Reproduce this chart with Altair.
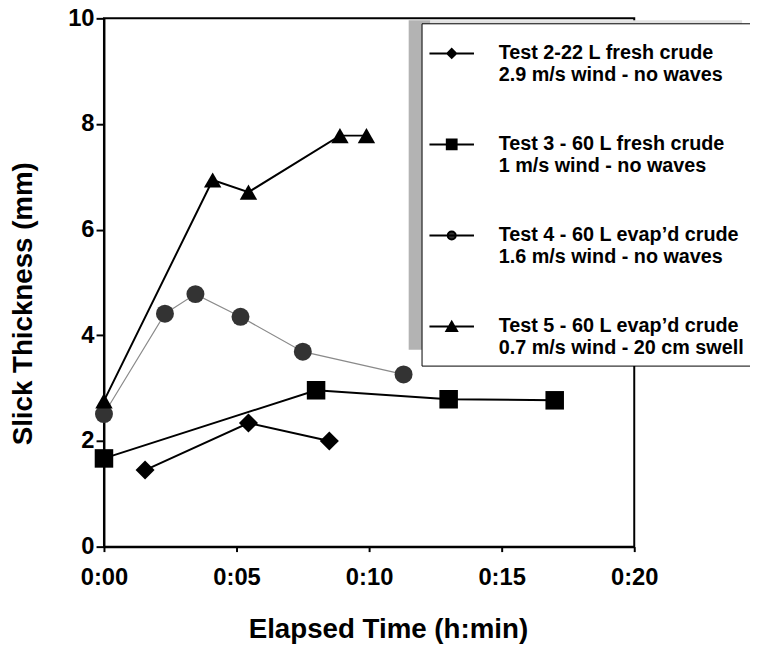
import altair as alt
import pandas as pd

series_labels = [
    "Test 2-22 L fresh crude|2.9 m/s wind - no waves",
    "Test 3 - 60 L fresh crude|1 m/s wind - no waves",
    "Test 4 - 60 L evap\u2019d crude|1.6 m/s wind - no waves",
    "Test 5 - 60 L evap\u2019d crude|0.7 m/s wind - 20 cm swell",
]

# elapsed time in minutes, slick thickness in mm
t2_time = [1.55, 5.45, 8.5]
t2_thick = [1.45, 2.34, 2.0]
t3_time = [0.0, 8.0, 13.0, 17.0]
t3_thick = [1.67, 2.96, 2.79, 2.77]
t4_time = [0.0, 2.3, 3.45, 5.15, 7.5, 11.3]
t4_thick = [2.51, 4.41, 4.78, 4.35, 3.69, 3.26]
t5_time = [0.0, 4.1, 5.45, 8.9, 9.9]
t5_thick = [2.76, 6.94, 6.71, 7.78, 7.78]

x_ticks = [0, 5, 10, 15, 20]
y_ticks = [0, 2, 4, 6, 8, 10]

rows = []
for s, ts, vs in zip(series_labels,
                     [t2_time, t3_time, t4_time, t5_time],
                     [t2_thick, t3_thick, t4_thick, t5_thick]):
    for i, (t, v) in enumerate(zip(ts, vs)):
        rows.append({"series": s, "t": t, "v": v, "idx": i})
df = pd.DataFrame(rows)

FONT = "Liberation Sans"

x_enc = alt.X("t:Q", scale=alt.Scale(domain=[0, 20], nice=False),
              axis=alt.Axis(values=x_ticks, grid=False,
                            labelExpr="'0:' + (datum.value < 10 ? '0' : '') + datum.value",
                            title="Elapsed Time (h:min)",
                            labelFlush=False,
                            domainColor="black", domainWidth=2,
                            tickColor="black", tickWidth=2, tickSize=5,
                            labelFont=FONT, labelFontSize=24, labelFontWeight="bold",
                            labelColor="black", labelPadding=14,
                            titleFont=FONT, titleFontSize=28, titleFontWeight="bold",
                            titleColor="black", titleX=287, titleY=70))
y_enc = alt.Y("v:Q", scale=alt.Scale(domain=[0, 10], nice=False),
              axis=alt.Axis(values=y_ticks, grid=False,
                            title="Slick Thickness (mm)",
                            domainColor="black", domainWidth=2,
                            tickColor="black", tickWidth=2, tickSize=8,
                            labelFont=FONT, labelFontSize=24, labelFontWeight="bold",
                            labelColor="black", labelPadding=2,
                            titleFont=FONT, titleFontSize=28, titleFontWeight="bold",
                            titleColor="black", titleX=-67, titleY=288))

base = alt.Chart(df)
one = pd.DataFrame({"a": [0]})

shadow_left = alt.Chart(one).mark_rect(color="#b3b3b3").encode(
    x=alt.value(308), x2=alt.value(330), y=alt.value(2), y2=alt.value(335))
shadow_top = alt.Chart(one).mark_rect(color="#e2e2e2").encode(
    x=alt.value(330), x2=alt.value(645), y=alt.value(2), y2=alt.value(12))

gray_line = base.transform_filter(alt.datum.series == series_labels[2]).mark_line(
    color="#8a8a8a", strokeWidth=1.2).encode(x=x_enc, y=y_enc, order="idx:Q")

black_lines = base.transform_filter(alt.datum.series != series_labels[2]).mark_line(
    color="black", strokeWidth=2).encode(x=x_enc, y=y_enc, detail="series:N", order="idx:Q")

points = base.mark_point(filled=True, opacity=1).encode(
    x=x_enc, y=y_enc,
    shape=alt.Shape("series:N", scale=alt.Scale(domain=series_labels,
                    range=["diamond", "square", "circle", "triangle-up"]), legend=None),
    color=alt.Color("series:N", scale=alt.Scale(domain=series_labels,
                    range=["black", "black", "#333333", "black"]), legend=None),
    size=alt.Size("series:N", scale=alt.Scale(domain=series_labels,
                  range=[370, 310, 215, 430]), legend=None),
)

legend_paths = [
    "M-1,0H1M0,-0.2L0.2,0L0,0.2L-0.2,0Z",
    "M-1,0H1M-0.22,-0.22H0.22V0.22H-0.22Z",
    "M-1,0H1M-0.18,0A0.18,0.18 0 1,0 0.18,0A0.18,0.18 0 1,0 -0.18,0Z",
    "M-1,0H1M0,-0.22L0.24,0.2L-0.24,0.2Z",
]

leg = alt.Legend(title=None, orient="none", legendX=321, legendY=5,
                 direction="vertical", padding=7, rowPadding=36,
                 strokeColor="black", fillColor="white",
                 symbolSize=2025, symbolStrokeWidth=2, symbolOpacity=1,
                 labelExpr="split(datum.label, '|')",
                 labelFont=FONT, labelFontSize=20, labelFontWeight="bold",
                 labelColor="black", labelLimit=500, labelOffset=24)

legend_layer = base.transform_filter("datum.t < 0").mark_point(
    filled=True, opacity=1, size=2025, strokeWidth=2).encode(
    x=x_enc, y=y_enc,
    shape=alt.Shape("series:N", scale=alt.Scale(domain=series_labels, range=legend_paths), legend=leg),
    fill=alt.Fill("series:N", scale=alt.Scale(domain=series_labels,
                  range=["black", "black", "#333333", "black"]), legend=leg),
    stroke=alt.Stroke("series:N", scale=alt.Scale(domain=series_labels,
                      range=["black", "black", "black", "black"]), legend=leg),
)

chart = alt.layer(shadow_left, shadow_top, gray_line, black_lines, points, legend_layer).resolve_scale(
    shape="independent", color="independent", size="independent",
    fill="independent", stroke="independent"
).properties(
    width=536, height=534,
    autosize=alt.AutoSizeParams(type="none"),
    padding={"left": 97, "top": 7, "right": 117, "bottom": 100},
    background="white",
).configure_view(stroke="black", strokeWidth=2)

chart.save("out.html", embed_options={"renderer": "svg", "actions": False})
